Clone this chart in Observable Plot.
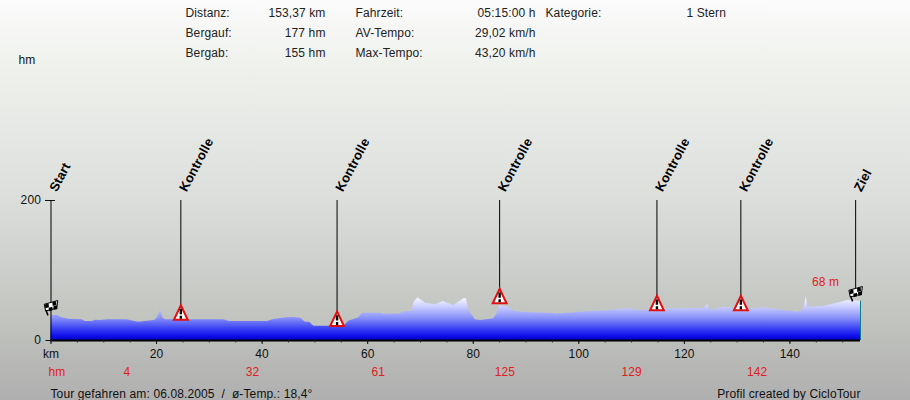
<!DOCTYPE html>
<html><head><meta charset="utf-8">
<script src="https://cdn.jsdelivr.net/npm/d3@7"></script>
<script src="https://cdn.jsdelivr.net/npm/@observablehq/plot@0.6"></script>
<style>html,body{margin:0;padding:0}svg{display:block}svg text{letter-spacing:.12px}</style>
</head><body><div id="chart"></div>
<script>
const profileKm = [0,1.17,2.1,3.4,5.9,6.5,7.8,8.4,9.4,10.7,14.4,15.7,16.6,18.2,19.6,20.2,20.75,21.2,21.7,32.7,33.9,41,42.2,44.7,45.9,47.3,48.2,49,49.8,55.5,56.4,58.3,59,62.4,63,65.9,67.2,68.4,68.7,69.5,71,72.9,74.3,76.3,78.2,78.7,79.2,80.4,81.4,83.9,84.5,85,86.7,87.7,90.9,94.6,95.9,100.3,104.1,109.8,111.1,116.8,123.7,124.5,124.8,127.5,131.9,135,141.4,142.6,143.1,143.4,146.4,149,150.9,153.37];
const profileElev = [35,36,32.4,30.5,29.5,27.1,27.1,29,28.6,29.5,29.5,27.6,26.2,27.6,28.6,32.4,43.8,32.4,29.5,29.5,27.1,27.1,30,32.4,33,31.9,26.2,26.2,20.5,20.5,27.6,32.4,39,39,37.6,38,41.4,41.4,53.3,61,53.3,51,55.7,50,59.5,59.5,42.9,29.5,28.6,31,38,50,47.6,41.4,39.5,39,38,40.5,42,45.2,43,45,46,51.4,43,47.6,43.8,46.7,40.5,43.8,62.9,47.6,48.6,53.3,57,56];
const markerNames = ["Start","Kontrolle","Kontrolle","Kontrolle","Kontrolle","Kontrolle","Ziel"];
const markerKm = [0,24.6,54.2,85,114.8,130.7,152.45];
const markerElev = [36,29.5,20.5,53,43,43,56];
const markerKind = ["flag","warn","warn","warn","warn","warn","flag"];
const kmTicks = [0,20,40,60,80,100,120,140];
const kmMinor = d3.range(0,151,5);
const climbLabels = ["4","32","61","125","129","142"];
const climbKm = [14.4,38.2,62,86,110,133.8];
const statsLabels1 = ["Distanz:","Bergauf:","Bergab:"];
const statsValues1 = ["153,37 km","177 hm","155 hm"];
const statsLabels2 = ["Fahrzeit:","AV-Tempo:","Max-Tempo:"];
const statsValues2 = ["05:15:00 h","29,02 km/h","43,20 km/h"];

const W=910,H=400,X0=50.5,X1=860,Y0=340,PXM=0.7;
const kmAt = px => (px-X0)*153.37/(X1-X0);
const elevAt = py => (Y0-py)/PXM;
const rows = markerNames.map((name,i)=>({name,km:markerKm[i],elev:markerElev[i],kind:markerKind[i]}));
const profile = profileKm.map((km,i)=>({km,elev:profileElev[i]}));
const warn = rows.filter(d=>d.kind==="warn");
const flags = rows.filter(d=>d.kind==="flag");

const triangle = {draw(c,s){const r=Math.sqrt(s);c.moveTo(0,-r*1.05);c.lineTo(r*.95,r*.95);c.lineTo(-r*.95,r*.95);c.closePath();}};
const flagBody = {draw(c,s){const r=Math.sqrt(s);c.moveTo(-r,-r*.45);c.lineTo(r,-r);c.lineTo(r*.85,r*.1);c.lineTo(-r*.8,r*.55);c.closePath();}};
const flagCheck = {draw(c,s){const r=Math.sqrt(s);
  const sq=(x,y)=>{c.moveTo(x,y);c.lineTo(x+r*.55,y-r*.15);c.lineTo(x+r*.6,y+r*.4);c.lineTo(x+r*.05,y+r*.55);c.closePath();};
  sq(-r*.9,-r*.4);sq(r*.2,-r*.75);sq(-r*.35,r*.05);sq(r*.35,-r*.15);}};
const flagPole = {draw(c,s){const r=Math.sqrt(s);c.moveTo(-r*.75,r*.4);c.lineTo(-r*.45,r*1.2);}};
const warnBar = {draw(c,s){const r=Math.sqrt(s);c.moveTo(0,-r*.55);c.lineTo(0,r*.2);c.moveTo(0,r*.4);c.lineTo(0,r*.8);}};

const txt={fontFamily:"Liberation Sans, Arial, sans-serif",fontSize:12};
const col=(values,px,anchor)=>Plot.text(values,{x:()=>kmAt(px),y:(d,i)=>elevAt(13+i*20),text:d=>d,textAnchor:anchor,fill:"#222",...txt});

const plot = Plot.plot({
  width:W,height:H,marginLeft:X0,marginRight:W-X1,marginTop:0,marginBottom:H-Y0,
  style:{background:"linear-gradient(180deg,#fbfbfb 0px,#f0f2ee 60px,#dcdedc 200px,#bfc1bd 330px,#afafaf 400px)",fontFamily:"Liberation Sans, Arial, sans-serif",fontSize:"12px",overflow:"visible"},
  x:{domain:[0,153.37],axis:null,label:null},
  y:{domain:[0,Y0/PXM],axis:null,label:null},
  marks:[
    ()=>{const ns="http://www.w3.org/2000/svg";const defs=document.createElementNS(ns,"defs");
      defs.innerHTML=`<linearGradient id="elev" gradientUnits="userSpaceOnUse" x1="0" x2="0" y1="296" y2="340">
        <stop offset="0" stop-color="#ffffff"/><stop offset="0.25" stop-color="#c8ccff"/><stop offset="0.5" stop-color="#8890f8"/><stop offset="0.72" stop-color="#4048f4"/><stop offset="0.9" stop-color="#1010ec"/><stop offset="1" stop-color="#0000c8"/></linearGradient>`;return defs;},
    Plot.areaY(profile,{x:"km",y:"elev",fill:"url(#elev)"}),
    Plot.ruleX([153.37],{y1:0,y2:56,stroke:"#0d7c86",strokeWidth:1}),
    Plot.ruleY([0],{stroke:"#000",strokeWidth:2}),
    Plot.ruleX(kmMinor,{y1:0,y2:-3.5,stroke:"#222"}),
    Plot.axisX({ticks:kmTicks,tickSize:4,tickPadding:5,label:null,fill:"#111",stroke:"#111",tickFormat:d=>d===0?"km":d,fontSize:12,fontFamily:txt.fontFamily}),
    Plot.axisY({ticks:[0,200],anchor:"left",tickSize:5,tickPadding:5,label:null,fill:"#111",stroke:"#111",fontSize:12}),
    Plot.ruleY([200],{x1:kmAt(45),x2:kmAt(55),stroke:"#111"}),
    Plot.ruleX(rows,{x:"km",y1:d=>d.km===0?0:d.elev+12,y2:200,stroke:"#000"}),
    Plot.dot(warn,{x:"km",y:"elev",r:4.1,dy:-7,symbol:triangle,fill:"#fff",stroke:"#e01010",strokeWidth:2}),
    Plot.dot(warn,{x:"km",y:"elev",r:4.1,dy:-7,symbol:warnBar,stroke:"#000",strokeWidth:2.4,fill:"none"}),
    Plot.dot(flags,{x:"km",y:"elev",r:3.8,dy:-8,symbol:flagBody,fill:"#fff",stroke:"#000",strokeWidth:1}),
    Plot.dot(flags,{x:"km",y:"elev",r:3.8,dy:-8,symbol:flagCheck,fill:"#000",stroke:"none"}),
    Plot.dot(flags,{x:"km",y:"elev",r:3.8,dy:-8,symbol:flagPole,stroke:"#000",strokeWidth:1.5,fill:"none"}),
    Plot.text(rows,{x:"km",y:200,text:"name",rotate:-62,textAnchor:"start",dx:2,dy:-10,fill:"#000",fontWeight:"bold",fontFamily:txt.fontFamily,fontSize:13}),
    col(statsLabels1,185,"start"),col(statsValues1,325,"end"),
    col(statsLabels2,355,"start"),col(statsValues2,535,"end"),
    Plot.text(["Kategorie:"],{x:()=>kmAt(545),y:()=>elevAt(13),textAnchor:"start",fill:"#222",...txt}),
    Plot.text(["1 Stern"],{x:()=>kmAt(686),y:()=>elevAt(13),textAnchor:"start",fill:"#222",...txt}),
    Plot.text(["hm"],{x:()=>kmAt(18),y:()=>elevAt(60),textAnchor:"start",fill:"#111",...txt}),
    Plot.text(["hm"],{x:()=>kmAt(48),y:()=>elevAt(372),textAnchor:"start",fill:"#e02020",...txt}),
    Plot.text(climbLabels,{x:(d,i)=>climbKm[i],y:()=>elevAt(372),textAnchor:"middle",fill:"#e02020",...txt}),
    Plot.text(["68 m"],{x:()=>kmAt(825),y:()=>elevAt(282),textAnchor:"middle",fill:"#e02020",...txt}),
    Plot.text(["Tour gefahren am: 06.08.2005  /  ø-Temp.: 18,4°"],{x:()=>kmAt(50),y:()=>elevAt(394),textAnchor:"start",fill:"#111",...txt}),
    Plot.text(["Profil created by CicloTour"],{x:()=>kmAt(860),y:()=>elevAt(394),textAnchor:"end",fill:"#111",...txt})
  ]
});
document.getElementById("chart").append(plot);
</script></body></html>
